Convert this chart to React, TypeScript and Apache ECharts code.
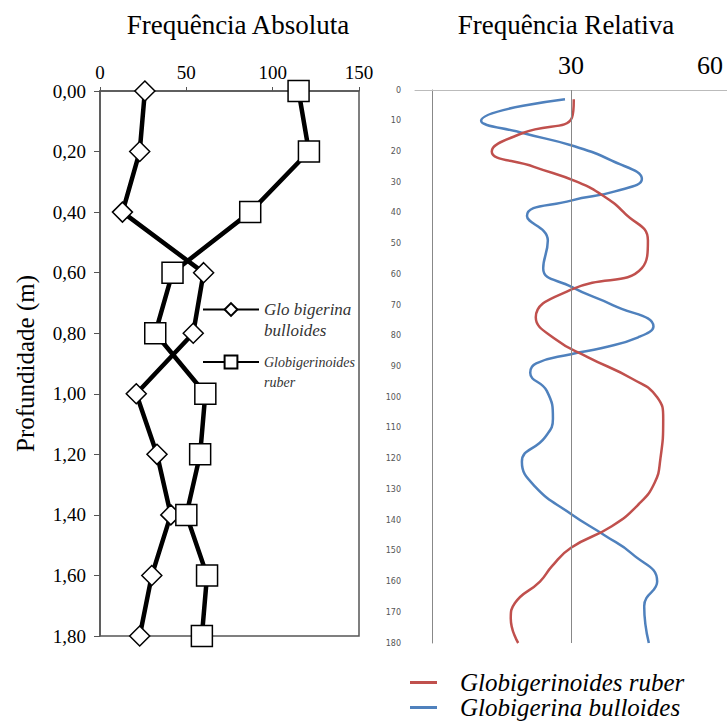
import { useEffect, useRef } from "react";
import * as echarts from "echarts";

// ---- Left chart: Frequência Absoluta ----
const depthAbs = [0, 0.2, 0.4, 0.6, 0.8, 1.0, 1.2, 1.4, 1.6, 1.8];
const bulloidesAbs = [26, 23, 13, 60, 54, 21, 33, 41, 30, 23];
const ruberAbs = [115, 121, 87, 42, 32, 61, 58, 50, 62, 59];

// ---- Right chart: Frequência Relativa ----
const ruberDepths = [3, 9, 14, 20, 25, 30, 35, 40, 49, 58, 65, 74, 81, 87, 94, 100, 107, 120, 128, 135, 142, 149, 155, 160, 167, 172, 180];
const ruberRel = [30.6, 30.2, 19.6, 12.9, 22, 31.5, 37.5, 41.5, 46.6, 45.3, 30, 22.4, 26.5, 33.7, 43.2, 48.6, 49.9, 49.3, 48, 44.5, 38.8, 30, 25.9, 23.3, 17.9, 17.0, 18.6];
const bulloidesDepths = [3, 10, 14, 18, 23, 29, 33, 36, 41, 49, 58, 64, 70, 77, 80.5, 84, 86, 89, 92, 98, 107, 113, 121, 129, 138, 145, 151, 160, 168, 180];
const bulloidesRel = [28.7, 10.6, 19.6, 30, 38.8, 45.3, 39.5, 30, 20.5, 25, 24, 30, 39, 47.8, 44.5, 36.7, 30, 22.5, 21.2, 24.8, 26.1, 24.4, 19.4, 22.2, 30, 37.3, 43.2, 48.6, 45.8, 46.8];
const relTickLabels = [30, 60];

const serif = "'Liberation Serif', 'Times New Roman', serif";

export default function App() {
  const ref = useRef<HTMLDivElement>(null);

  useEffect(() => {
    document.body.style.margin = "0";
    if (!ref.current) return;
    const chart = echarts.init(ref.current, undefined, { renderer: "svg" });

    const lineMark = {
      silent: true,
      symbol: ["none", "none"],
      label: { show: false },
      lineStyle: { color: "#888", width: 1, type: "solid" },
      data: [{ xAxis: 30 }],
    };

    const option: any = {
      animation: false,
      backgroundColor: "#fff",
      title: [
        {
          text: "Frequência Absoluta",
          left: 233,
          top: 6,
          textAlign: "center",
          textStyle: { fontFamily: serif, fontSize: 27, fontWeight: "normal", color: "#000" },
        },
        {
          text: "Frequência Relativa",
          left: 561,
          top: 6,
          textAlign: "center",
          textStyle: { fontFamily: serif, fontSize: 27, fontWeight: "normal", color: "#000" },
        },
      ],
      legend: [
        {
          data: ["Globigerina bulloides (absoluta)"],
          left: 202,
          top: 278,
          padding: 0,
          itemWidth: 56,
          itemHeight: 16,
          selectedMode: false,
          formatter: () => " \nGlo bigerina\nbulloides",
          textStyle: {
            fontFamily: serif,
            fontStyle: "italic",
            fontSize: 17,
            lineHeight: 21,
            color: "#333",
          },
        },
        {
          data: ["Globigerinoides ruber (absoluta)"],
          left: 202,
          top: 332,
          padding: 0,
          itemWidth: 56,
          itemHeight: 16,
          selectedMode: false,
          formatter: () => " \nGlobigerinoides\nruber",
          textStyle: {
            fontFamily: serif,
            fontStyle: "italic",
            fontSize: 14,
            lineHeight: 20,
            color: "#333",
          },
        },
        {
          data: ["Globigerinoides ruber", "Globigerina bulloides"],
          left: 410,
          top: 670,
          orient: "vertical",
          padding: 0,
          icon: "rect",
          itemWidth: 27,
          itemHeight: 3,
          itemGap: 0,
          selectedMode: false,
          textStyle: {
            fontFamily: serif,
            fontStyle: "italic",
            fontSize: 25,
            lineHeight: 24,
            color: "#000",
            padding: [0, 0, 0, 18],
          },
        },
      ],
      grid: [
        { left: 100, top: 91, width: 259, height: 545, show: true, borderColor: "#555", borderWidth: 1.5, backgroundColor: "transparent" },
        { left: 415, top: 90, right: 0, height: 553 },
      ],
      xAxis: [
        {
          gridIndex: 0,
          type: "value",
          position: "top",
          min: 0,
          max: 150,
          interval: 50,
          axisLine: { show: true, lineStyle: { color: "#555", width: 1.5 } },
          axisTick: { show: true, length: 4, lineStyle: { color: "#555" } },
          axisLabel: { fontFamily: serif, fontSize: 19, color: "#000", margin: 9 },
          splitLine: { show: false },
        },
        {
          gridIndex: 1,
          type: "value",
          position: "top",
          min: -3.67,
          max: 63.67,
          axisLine: { show: true, lineStyle: { color: "#bbb", width: 1 } },
          axisTick: { show: false },
          axisLabel: { customValues: relTickLabels, fontFamily: serif, fontSize: 26, color: "#000", margin: 12 },
          splitLine: { show: false },
        },
      ],
      yAxis: [
        {
          gridIndex: 0,
          type: "value",
          inverse: true,
          min: 0,
          max: 1.8,
          interval: 0.2,
          name: "Profundidade (m)",
          nameLocation: "middle",
          nameGap: 62,
          nameTextStyle: { fontFamily: serif, fontSize: 25, color: "#000" },
          axisLine: { show: true, lineStyle: { color: "#555", width: 1.5 } },
          axisTick: { show: true, length: 6, lineStyle: { color: "#555" } },
          axisLabel: {
            fontFamily: serif,
            fontSize: 19,
            color: "#000",
            margin: 14,
            formatter: (v: number) => v.toFixed(2).replace(".", ","),
          },
          splitLine: { show: false },
        },
        {
          gridIndex: 1,
          type: "value",
          inverse: true,
          min: 0,
          max: 180,
          interval: 10,
          axisLine: { show: true, lineStyle: { color: "#888", width: 1 } },
          axisTick: { show: false },
          axisLabel: { fontFamily: "'DejaVu Sans', sans-serif", fontSize: 8, color: "#555", margin: 14 },
          splitLine: { show: false },
        },
      ],
      series: [
        {
          name: "Globigerina bulloides (absoluta)",
          type: "line",
          xAxisIndex: 0,
          yAxisIndex: 0,
          data: depthAbs.map((d, i) => [bulloidesAbs[i], d]),
          symbol: "diamond",
          symbolSize: 20,
          lineStyle: { color: "#000", width: 4.5 },
          itemStyle: { color: "#fff", borderColor: "#000", borderWidth: 1.5 },
          z: 2,
        },
        {
          name: "Globigerinoides ruber (absoluta)",
          type: "line",
          xAxisIndex: 0,
          yAxisIndex: 0,
          data: depthAbs.map((d, i) => [ruberAbs[i], d]),
          symbol: "rect",
          symbolSize: 21,
          lineStyle: { color: "#000", width: 4.5 },
          itemStyle: { color: "#fff", borderColor: "#000", borderWidth: 1.5 },
          z: 3,
        },
        {
          name: "Globigerinoides ruber",
          type: "line",
          xAxisIndex: 1,
          yAxisIndex: 1,
          data: ruberDepths.map((d, i) => [ruberRel[i], d]),
          smooth: 0.5,
          showSymbol: false,
          symbol: "none",
          color: "#c0504d",
          lineStyle: { color: "#c0504d", width: 2.5 },
          markLine: lineMark,
          z: 3,
        },
        {
          name: "Globigerina bulloides",
          type: "line",
          xAxisIndex: 1,
          yAxisIndex: 1,
          data: bulloidesDepths.map((d, i) => [bulloidesRel[i], d]),
          smooth: 0.5,
          showSymbol: false,
          symbol: "none",
          color: "#4f81bd",
          lineStyle: { color: "#4f81bd", width: 2.5 },
          z: 2,
        },
      ],
    };

    chart.setOption(option);
    return () => chart.dispose();
  }, []);

  return <div ref={ref} style={{ width: 727, height: 722 }} />;
}
